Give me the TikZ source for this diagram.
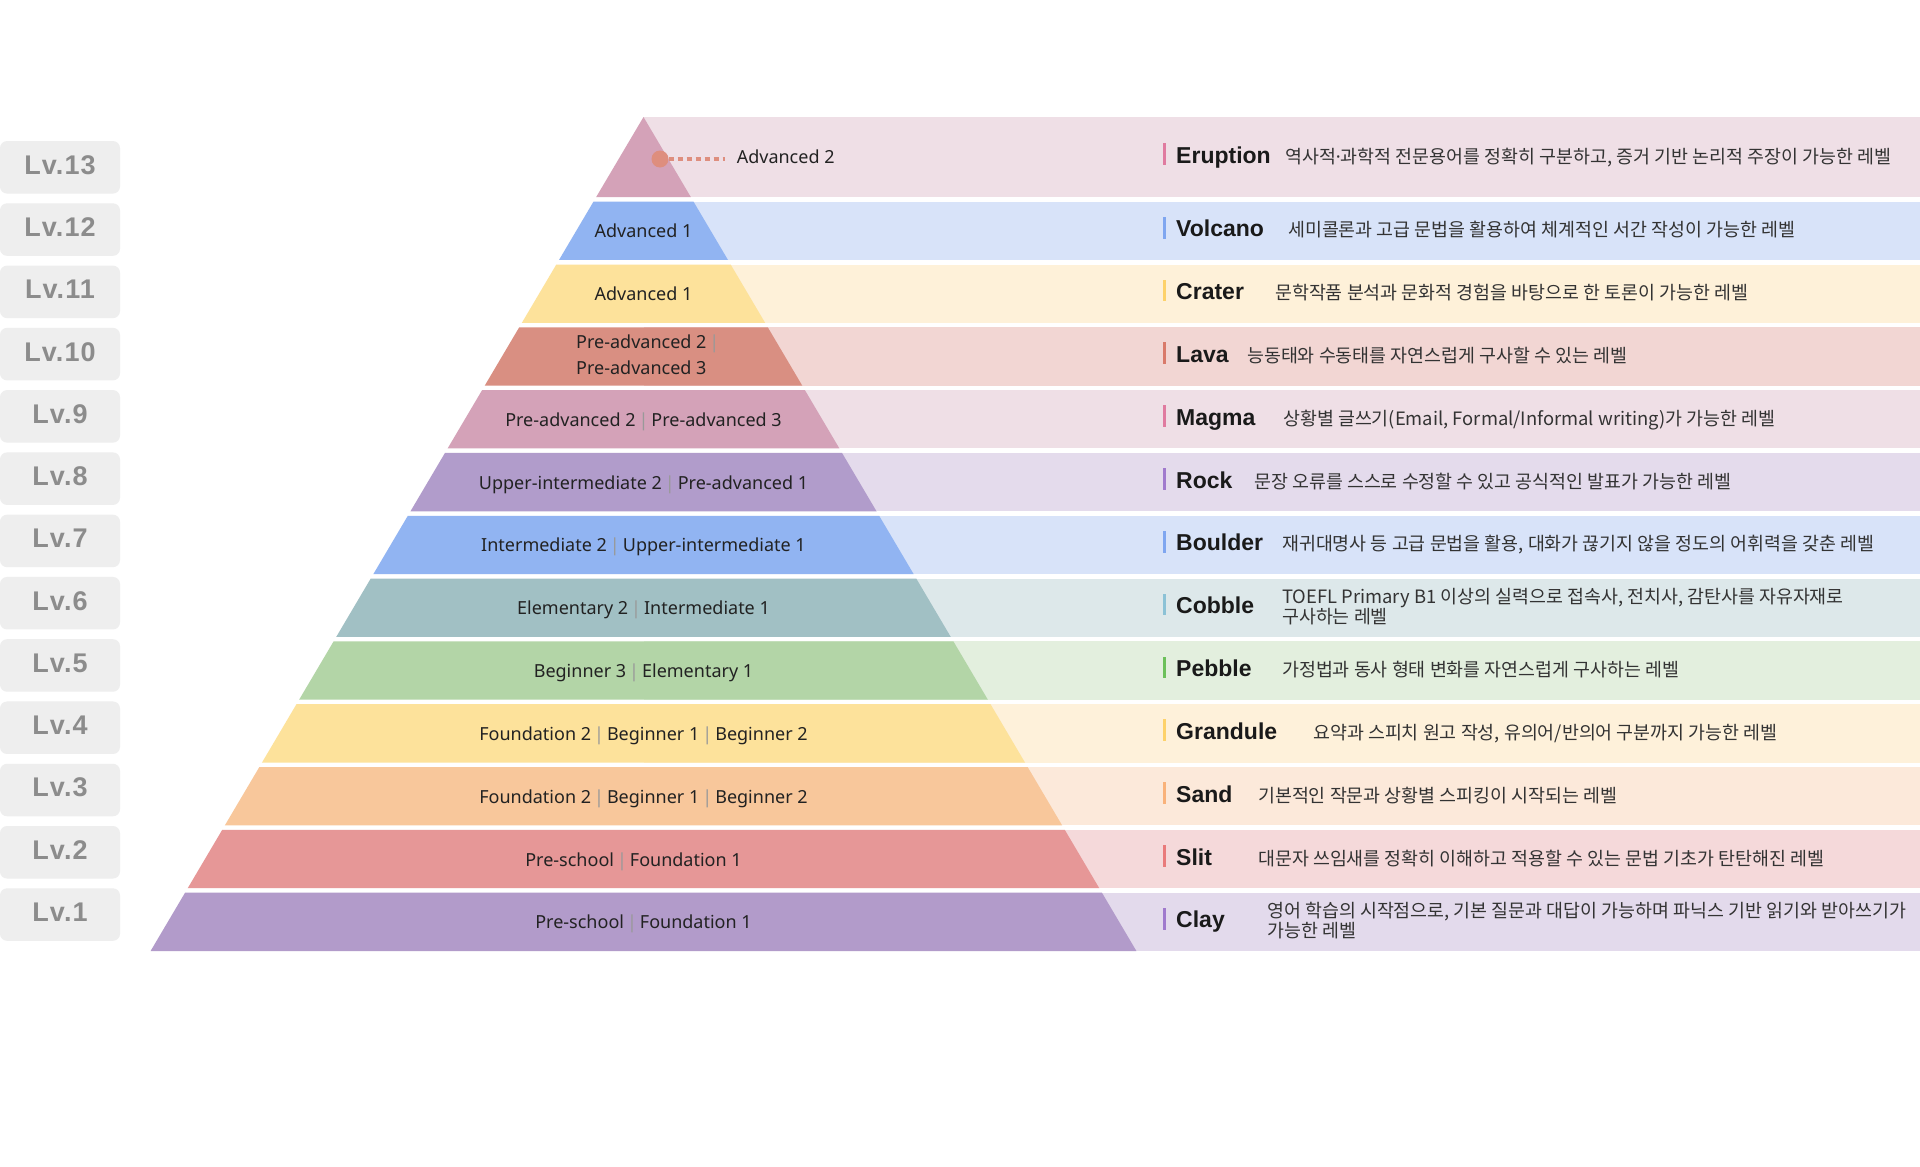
\documentclass[tikz,border=0pt]{standalone}
\usepackage{fontspec}
\setmainfont{Noto Sans}
\newfontfamily\lvfont[LetterSpace=4.0]{Liberation Sans}
\newfontfamily\titlefont{Liberation Sans}
\newfontfamily\krfont{Noto Sans CJK KR}
\newfontfamily\latinfont{Noto Sans}
\definecolor{py1}{HTML}{B29BCA}\definecolor{bg1}{HTML}{E3DAEC}\definecolor{bar1}{HTML}{A07ACD}
\definecolor{py2}{HTML}{E69797}\definecolor{bg2}{HTML}{F5D9DA}\definecolor{bar2}{HTML}{E97B7B}
\definecolor{py3}{HTML}{F8C79B}\definecolor{bg3}{HTML}{FCE9DA}\definecolor{bar3}{HTML}{F9B27A}
\definecolor{py4}{HTML}{FDE29B}\definecolor{bg4}{HTML}{FEF1DA}\definecolor{bar4}{HTML}{FDD26B}
\definecolor{py5}{HTML}{B3D5A7}\definecolor{bg5}{HTML}{E3EFDE}\definecolor{bar5}{HTML}{6CC05A}
\definecolor{py6}{HTML}{A1C0C4}\definecolor{bg6}{HTML}{DDE8EA}\definecolor{bar6}{HTML}{8CC2D6}
\definecolor{py7}{HTML}{91B4F2}\definecolor{bg7}{HTML}{D8E3F9}\definecolor{bar7}{HTML}{7FA6F0}
\definecolor{py8}{HTML}{B19CCB}\definecolor{bg8}{HTML}{E4DBEC}\definecolor{bar8}{HTML}{A07ACD}
\definecolor{py9}{HTML}{D4A2B8}\definecolor{bg9}{HTML}{EFDFE6}\definecolor{bar9}{HTML}{E07BA0}
\definecolor{py10}{HTML}{D98F82}\definecolor{bg10}{HTML}{F2D6D3}\definecolor{bar10}{HTML}{D97A6A}
\definecolor{py11}{HTML}{FDE29B}\definecolor{bg11}{HTML}{FEF1D9}\definecolor{bar11}{HTML}{FDD26B}
\definecolor{py12}{HTML}{91B4F2}\definecolor{bg12}{HTML}{D8E3F9}\definecolor{bar12}{HTML}{7FA6F0}
\definecolor{py13}{HTML}{D4A2B8}\definecolor{bg13}{HTML}{EFDFE6}\definecolor{bar13}{HTML}{E07BA0}
\definecolor{lvbg}{HTML}{EEEEEE}
\definecolor{lvtext}{HTML}{8C8C8C}
\definecolor{labtext}{HTML}{222222}
\definecolor{sepgray}{HTML}{999999}
\definecolor{ttltext}{HTML}{1A1A1A}
\definecolor{dsctext}{HTML}{333333}
\definecolor{dotc}{HTML}{DE8E7E}
\newcommand\sepbar{\hspace{3pt}{\color{sepgray}|}\hspace{3pt}}
\begin{document}
\begin{tikzpicture}[x=1pt,y=-1pt,
  lvbox/.style={fill=lvbg, rounded corners=7pt, minimum width=120pt, minimum height=52.5pt, inner sep=0pt, text=lvtext, font=\lvfont\bfseries\fontsize{27}{30}\selectfont, text depth=5pt},
  plab/.style={font=\fontsize{18}{26}\selectfont, text=labtext, inner sep=0pt},
  ttl/.style={font=\titlefont\bfseries\fontsize{23}{26}\selectfont, text=ttltext, inner sep=0pt, anchor=base west},
  dsc/.style={font=\krfont\fontsize{18.4}{21}\selectfont, text=dsctext, inner sep=0pt, anchor=base west}]
\useasboundingbox (0,0) rectangle (1920,1167);
\fill[white] (0,0) rectangle (1920,1167);
% bands
\foreach \i in {1,...,12}{
  \pgfmathsetmacro\tp{892.7-(\i-1)*62.82}
  \pgfmathsetmacro\bt{\tp+58.3}
  \pgfmathsetmacro\hw{0.591*(\tp-117)}
  \pgfmathsetmacro\hb{0.591*(\bt-117)}
  \fill[fill=bg\i] (643.5,\tp) rectangle (1920,\bt);
  \fill[fill=py\i] ({643.5-\hw},\tp) -- ({643.5+\hw},\tp) -- ({643.5+\hb},\bt) -- ({643.5-\hb},\bt) -- cycle;
}
\fill[fill=bg13] (643.5,117) rectangle (1920,197);
\fill[fill=py13] (643.5,117) -- (690.8,197) -- (596.2,197) -- cycle;
% level boxes
\foreach \i in {1,...,13}{
  \node[lvbox] (lv\i) at (60,{914.55-(\i-1)*62.27}) {Lv.\i};
}
% pyramid labels
\node[plab, anchor=base] (p12) at (643.5,237.8) {Advanced 1};
\node[plab, anchor=base] (p11) at (643.5,300.6) {Advanced 1};
\node[plab, align=left, anchor=center] (p10) at (647.8,355) {Pre-advanced 2\sepbar\\Pre-advanced 3};
\node[plab, anchor=base] (p9) at (643.5,426.3) {Pre-advanced 2\sepbar Pre-advanced 3};
\node[plab, anchor=base] (p8) at (643.5,489.1) {Upper-intermediate 2\sepbar Pre-advanced 1};
\node[plab, anchor=base] (p7) at (643.5,551.9) {Intermediate 2\sepbar Upper-intermediate 1};
\node[plab, anchor=base] (p6) at (643.5,614.8) {Elementary 2\sepbar Intermediate 1};
\node[plab, anchor=base] (p5) at (643.5,677.6) {Beginner 3\sepbar Elementary 1};
\node[plab, anchor=base] (p4) at (643.5,740.4) {Foundation 2\sepbar Beginner 1\sepbar Beginner 2};
\node[plab, anchor=base] (p3) at (643.5,803.2) {Foundation 2\sepbar Beginner 1\sepbar Beginner 2};
\node[plab, anchor=base] (p2) at (633.5,866.0) {Pre-school\sepbar Foundation 1};
\node[plab, anchor=base] (p1) at (643.5,928.9) {Pre-school\sepbar Foundation 1};
% callout for level 13
\node[plab, anchor=base west, inner xsep=12pt] (adv2) at (724.6,163) {Advanced 2};
\node[circle, fill=dotc, minimum size=17pt, inner sep=0pt] (dot) at (660,159) {};
\draw[dotc, line width=4.5pt, dash pattern=on 5pt off 4pt] (dot.east) -- (dot.east -| adv2.west);
% bars
\foreach \i/\cy in {1/921.85,2/859.03,3/796.21,4/733.39,5/670.57,6/607.75,7/544.93,8/482.11,9/419.29,10/356.47,11/293.65,12/230.83,13/157}{
  \fill[fill=bar\i] (1163,{\cy-14}) rectangle (1166,{\cy+7.7});
}
% titles
\node[ttl] (t13) at (1176,163) {Eruption};
\node[ttl] (t12) at (1176,236.83) {Volcano};
\node[ttl] (t11) at (1176,299.65) {Crater};
\node[ttl] (t10) at (1176,362.47) {Lava};
\node[ttl] (t9) at (1176,425.29) {Magma};
\node[ttl] (t8) at (1176,488.11) {Rock};
\node[ttl] (t7) at (1176,550.93) {Boulder};
\node[ttl] (t6) at (1176,613.75) {Cobble};
\node[ttl] (t5) at (1176,676.57) {Pebble};
\node[ttl] (t4) at (1176,739.39) {Grandule};
\node[ttl] (t3) at (1176,802.21) {Sand};
\node[ttl] (t2) at (1176,865.03) {Slit};
\node[ttl] (t1) at (1176,927.85) {Clay};
% descriptions
\node[dsc] (d13) at (1285,163) {역사적{\latinfont ·}과학적 전문용어를 정확히 구분하고, 증거 기반 논리적 주장이 가능한 레벨};
\node[dsc] (d12) at (1288,236.8) {세미콜론과 고급 문법을 활용하여 체계적인 서간 작성이 가능한 레벨};
\node[dsc] (d11) at (1275,299.7) {문학작품 분석과 문화적 경험을 바탕으로 한 토론이 가능한 레벨};
\node[dsc] (d10) at (1247,362.5) {능동태와 수동태를 자연스럽게 구사할 수 있는 레벨};
\node[dsc] (d9) at (1283,425.3) {상황별 글쓰기(Email, Formal/Informal writing)가 가능한 레벨};
\node[dsc] (d8) at (1254,488.1) {문장 오류를 스스로 수정할 수 있고 공식적인 발표가 가능한 레벨};
\node[dsc] (d7) at (1282,550.9) {재귀대명사 등 고급 문법을 활용, 대화가 끊기지 않을 정도의 어휘력을 갖춘 레벨};
\node[dsc] (d6a) at (1282,603.8) {TOEFL Primary B1 이상의 실력으로 접속사, 전치사, 감탄사를 자유자재로};
\node[dsc] (d6b) at (1282,623.8) {구사하는 레벨};
\node[dsc] (d5) at (1282,676.6) {가정법과 동사 형태 변화를 자연스럽게 구사하는 레벨};
\node[dsc] (d4) at (1313,739.4) {요약과 스피치 원고 작성, 유의어/반의어 구분까지 가능한 레벨};
\node[dsc] (d3) at (1258,802.2) {기본적인 작문과 상황별 스피킹이 시작되는 레벨};
\node[dsc] (d2) at (1258,865.0) {대문자 쓰임새를 정확히 이해하고 적용할 수 있는 문법 기초가 탄탄해진 레벨};
\node[dsc] (d1a) at (1267,917.9) {영어 학습의 시작점으로, 기본 질문과 대답이 가능하며 파닉스 기반 읽기와 받아쓰기가};
\node[dsc] (d1b) at (1267,937.9) {가능한 레벨};
\end{tikzpicture}
\end{document}
